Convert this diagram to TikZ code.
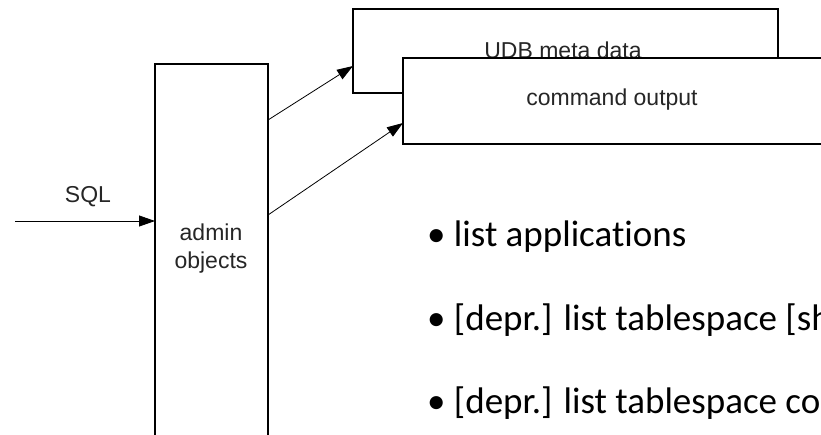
\documentclass[tikz,border=0pt]{standalone}
\usepackage{fontspec}
\setmainfont{Liberation Sans}
\newfontfamily\bulletfont[Ligatures={NoCommon,NoRare,NoDiscretionary}]{Carlito}
\usetikzlibrary{arrows.meta}
\begin{document}
\begin{tikzpicture}[x=1pt,y=-1pt,
  box/.style={draw=black, line width=1.1pt, fill=white, inner sep=0pt, outer sep=0pt, anchor=north west},
  arr/.style={line width=0.8pt, -{Triangle[length=16pt,width=11pt]}},
  lbl/.style={font=\fontsize{23}{28}\selectfont, text=black!85, inner sep=0pt},
  bul/.style={font=\bulletfont\fontsize{37}{44}\selectfont, text=black, anchor=west, inner sep=0pt}]
\useasboundingbox (0,0) rectangle (821,434);
\clip (0,0) rectangle (821,434);
% admin box
\node[box, minimum width=113pt, minimum height=420pt] (admin) at (155,64) {};
\node[lbl, align=center] (admintxt) at (211,249) {admin\\objects};
% SQL input
\coordinate (sqlsrc) at (15,221);
\draw[arr] (sqlsrc) -- (sqlsrc -| admin.west);
\node[lbl] (sql) at (88,197) {SQL};
% UDB meta data box
\node[box, minimum width=425pt, minimum height=84pt] (udb) at (353,9) {};
\node[lbl] (udbtxt) at (563,50) {UDB meta data};
% command output box
\node[box, minimum width=500pt, minimum height=86pt] (cmd) at (403,58) {};
\node[lbl] (cmdtxt) at (612,100) {command output};
% arrows
\coordinate (a1) at (268,120);
\coordinate (b1) at (353,66);
\coordinate (a2) at (268,215);
\coordinate (b2) at (403,123);
\draw[arr] (a1 -| admin.east) -- (b1 -| udb.west);
\draw[arr] (a2 -| admin.east) -- (b2 -| cmd.west);
% bullets
\node[bul] (l1) at (427,237) {\textbullet\ list applications};
\node[bul] (l2) at (427,320) {\textbullet\ [depr.] list tablespace [show detail]};
\node[bul] (l3) at (427,403) {\textbullet\ [depr.] list tablespace containers};
\end{tikzpicture}
\end{document}
